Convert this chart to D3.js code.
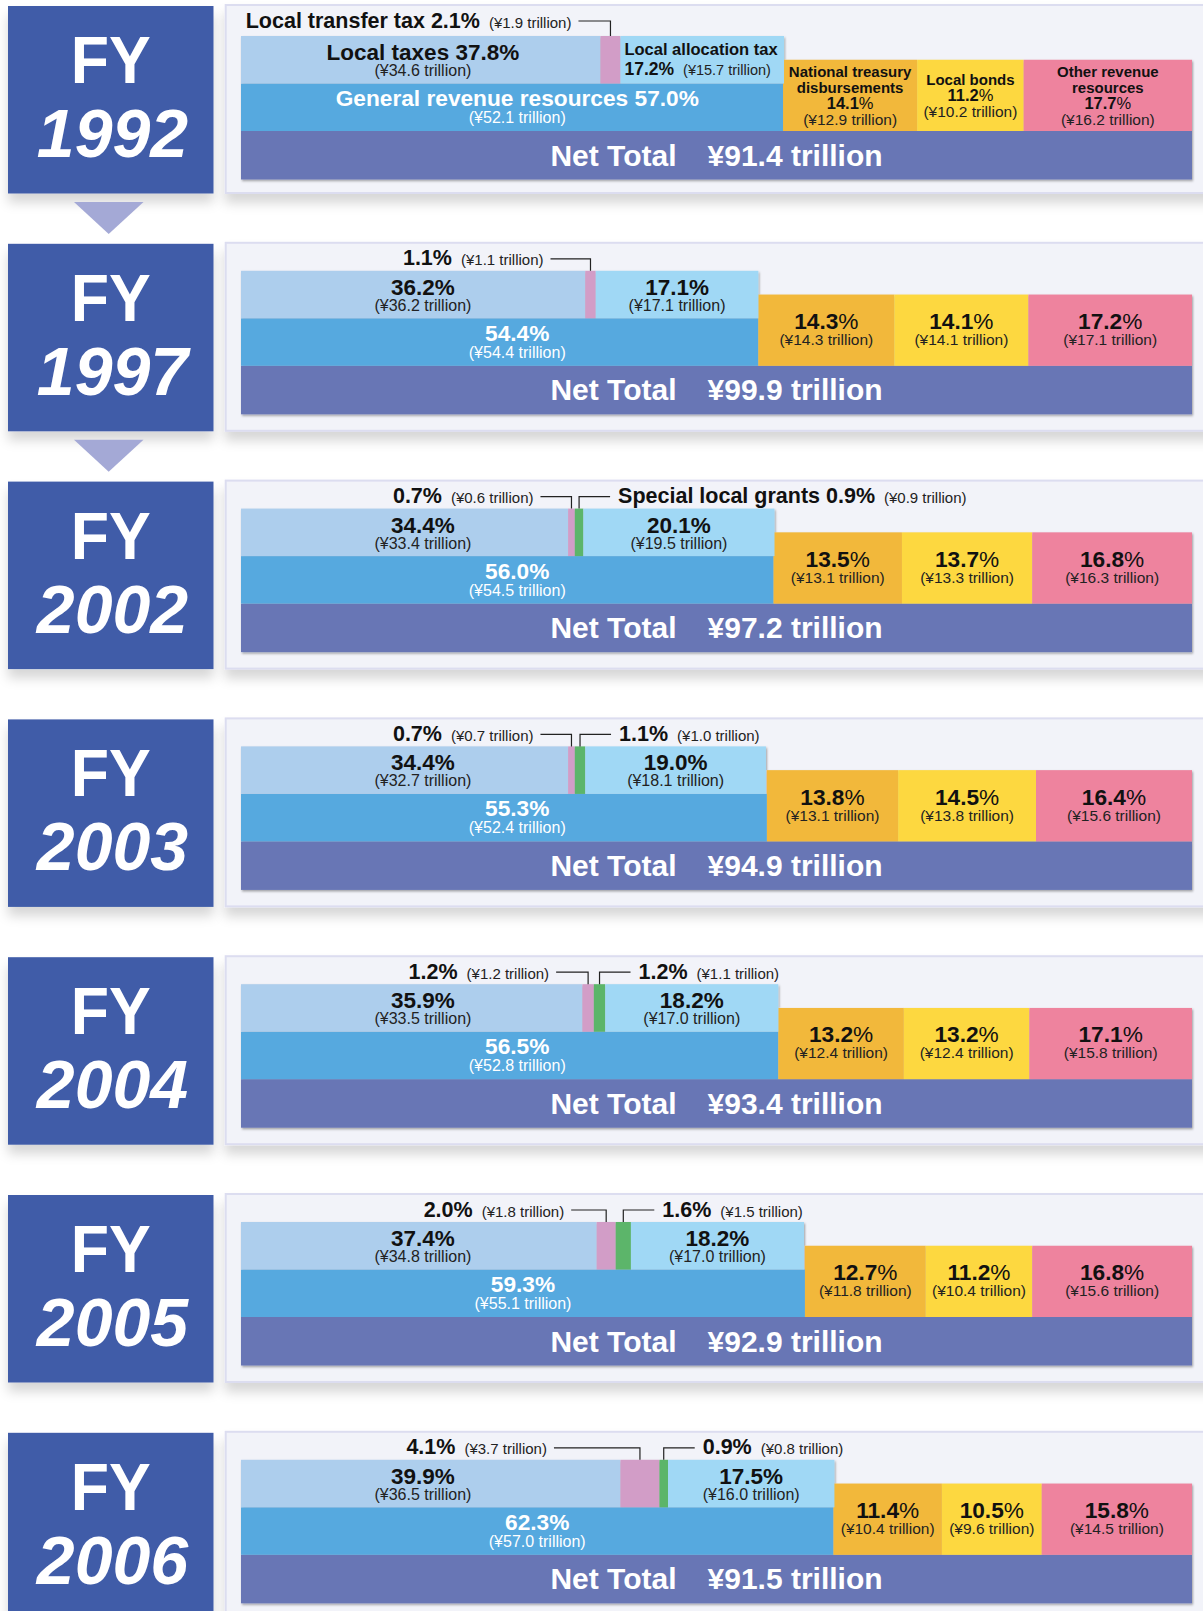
<!DOCTYPE html>
<html>
<head>
<meta charset="utf-8">
<script src="https://cdn.jsdelivr.net/npm/d3@7"></script>
<style>
  body { margin: 0; background: #ffffff; }
  svg { display: block; font-family: "Liberation Sans", Arial, Helvetica, sans-serif; }
</style>
</head>
<body>
<svg id="chart" width="1203" height="1611"></svg>
<script>
// ---------------- DATA ----------------
const years = ["1992", "1997", "2002", "2003", "2004", "2005", "2006"];
const netTotal = [91.4, 99.9, 97.2, 94.9, 93.4, 92.9, 91.5];

const localTaxesPct = [37.8, 36.2, 34.4, 34.4, 35.9, 37.4, 39.9];
const localTaxesAmt = [34.6, 36.2, 33.4, 32.7, 33.5, 34.8, 36.5];
const transferTaxPct = [2.1, 1.1, 0.7, 0.7, 1.2, 2.0, 4.1];
const transferTaxAmt = [1.9, 1.1, 0.6, 0.7, 1.2, 1.8, 3.7];
const specialGrantsPct = [0, 0, 0.9, 1.1, 1.2, 1.6, 0.9];
const specialGrantsAmt = [0, 0, 0.9, 1.0, 1.1, 1.5, 0.8];
const allocationPct = [17.2, 17.1, 20.1, 19.0, 18.2, 18.2, 17.5];
const allocationAmt = [15.7, 17.1, 19.5, 18.1, 17.0, 17.0, 16.0];
const generalPct = [57.0, 54.4, 56.0, 55.3, 56.5, 59.3, 62.3];
const generalAmt = [52.1, 54.4, 54.5, 52.4, 52.8, 55.1, 57.0];
const treasuryPct = [14.1, 14.3, 13.5, 13.8, 13.2, 12.7, 11.4];
const treasuryAmt = [12.9, 14.3, 13.1, 13.1, 12.4, 11.8, 10.4];
const bondsPct = [11.2, 14.1, 13.7, 14.5, 13.2, 11.2, 10.5];
const bondsAmt = [10.2, 14.1, 13.3, 13.8, 12.4, 10.4, 9.6];
const otherPct = [17.7, 17.2, 16.8, 16.4, 17.1, 16.8, 15.8];
const otherAmt = [16.2, 17.1, 16.3, 15.6, 15.8, 15.6, 14.5];

const categoryNames = {
  localTaxes: "Local taxes",
  transfer: "Local transfer tax",
  special: "Special local grants",
  allocation: "Local allocation tax",
  general: "General revenue resources",
  treasury: ["National treasury", "disbursements"],
  bonds: ["Local bonds"],
  other: ["Other revenue", "resources"],
  net: "Net Total"
};

// ---------------- STYLE / LAYOUT ----------------
const colors = {
  fyBox: "#405ca8", triangle: "#a4a9d6",
  panel: "#f2f3f9", panelBorder: "#dcddf0",
  localTaxes: "#adceed", transfer: "#d29dc7", special: "#5bb56a",
  allocation: "#a0d8f5", general: "#57a9df",
  treasury: "#f2b83b", bonds: "#fdd83f", other: "#ee839e", net: "#6876b5"
};
const transferLeader = [32, 40, 31, 31, 32, 35, 86];

const svg = d3.select("#chart");
const defs = svg.append("defs");
const fBar = defs.append("filter").attr("id", "barShadow")
  .attr("x", "-5%").attr("y", "-20%").attr("width", "110%").attr("height", "150%");
fBar.append("feDropShadow").attr("dx", 1).attr("dy", 1.5).attr("stdDeviation", 1.2)
  .attr("flood-color", "#000").attr("flood-opacity", 0.35);
const fBox = defs.append("filter").attr("id", "boxShadow")
  .attr("x", "-10%").attr("y", "-10%").attr("width", "120%").attr("height", "140%");
fBox.append("feDropShadow").attr("dx", 0).attr("dy", 9).attr("stdDeviation", 6)
  .attr("flood-color", "#000").attr("flood-opacity", 0.16);

const x = d3.scaleLinear().domain([0, 100]).range([241, 1192]);
const panelY = d3.scaleLinear().domain([0, 1]).range([5, 242.8]);
const fmt = d3.format(".1f");
const amtText = v => `(¥${fmt(v)} trillion)`;

// common label anchors (labels share one column, as in the original layout)
const localTaxesAnchor = x(d3.mean(localTaxesPct) / 2) + 8;
const generalAnchor = x(d3.mean(generalPct) / 2) + 4;

years.forEach((yr, i) => {
  const P = panelY(i);
  const g = svg.append("g");

  // FY box
  g.append("rect").attr("x", 8).attr("y", P + 1).attr("width", 205.5).attr("height", 187.5)
    .attr("fill", colors.fyBox).attr("filter", "url(#boxShadow)");
  g.append("text").attr("x", 110.7).attr("y", P + 78).attr("text-anchor", "middle")
    .attr("fill", "#fff").attr("font-weight", "bold").attr("font-size", 67)
    .attr("textLength", 80).attr("lengthAdjust", "spacingAndGlyphs").text("FY");
  g.append("text").attr("x", 112.5).attr("y", P + 152).attr("text-anchor", "middle")
    .attr("fill", "#fff").attr("font-weight", "bold").attr("font-style", "italic")
    .attr("font-size", 68).text(yr);

  if (i < 2) {
    g.append("polygon")
      .attr("points", `74,${P + 197} 143.5,${P + 197} 108.7,${P + 229}`)
      .attr("fill", colors.triangle);
  }

  // panel
  g.append("rect").attr("x", 225.7).attr("y", P).attr("width", 1000).attr("height", 188)
    .attr("fill", colors.panel).attr("stroke", colors.panelBorder).attr("stroke-width", 2)
    .attr("filter", "url(#boxShadow)");

  const off = i === 0 ? 3 : 0;
  const rowH = 47.5;
  const y0 = P + 28 + off, y1 = y0 + rowH, y2 = y1 + rowH, y3 = y2 + 48.5;
  const yR = y0 + rowH / 2;

  const bars = g.append("g").attr("filter", "url(#barShadow)");
  const rect = (a, b, top, bottom, fill) =>
    bars.append("rect").attr("x", x(a)).attr("y", top)
      .attr("width", x(b) - x(a)).attr("height", bottom - top).attr("fill", fill);

  // net total
  rect(0, 100, y2, y3, colors.net);
  // general revenue
  rect(0, generalPct[i], y1, y2, colors.general);
  // right bars
  const rb = [
    { key: "treasury", pct: treasuryPct[i], amt: treasuryAmt[i] },
    { key: "bonds", pct: bondsPct[i], amt: bondsAmt[i] },
    { key: "other", pct: otherPct[i], amt: otherAmt[i] }
  ];
  let c = generalPct[i];
  rb.forEach(d => { d.a = c; d.b = c + d.pct; c = d.b; });
  rb.forEach(d => rect(d.a, d.b, yR, y2, colors[d.key]));
  // top row
  const tr = [
    { key: "localTaxes", pct: localTaxesPct[i], amt: localTaxesAmt[i] },
    { key: "transfer", pct: transferTaxPct[i], amt: transferTaxAmt[i] },
    { key: "special", pct: specialGrantsPct[i], amt: specialGrantsAmt[i] },
    { key: "allocation", pct: allocationPct[i], amt: allocationAmt[i] }
  ];
  c = 0;
  tr.forEach(d => { d.a = c; d.b = c + d.pct; c = d.b; });
  tr.filter(d => d.pct > 0).forEach(d => rect(d.a, d.b, y0, y1, colors[d.key]));

  const T = g.append("g").attr("fill", "#111");
  const mid = d => (x(d.a) + x(d.b)) / 2;

  // local taxes label
  const lt = tr[0];
  T.append("text").attr("x", localTaxesAnchor).attr("y", y0 + 24).attr("text-anchor", "middle")
    .attr("font-weight", "bold").attr("font-size", 22.5)
    .text((i === 0 ? categoryNames.localTaxes + " " : "") + fmt(lt.pct) + "%");
  T.append("text").attr("x", localTaxesAnchor).attr("y", y0 + 40).attr("text-anchor", "middle")
    .attr("font-size", 16).attr("fill", "#222").text(amtText(lt.amt));

  // allocation label
  const al = tr[3];
  if (i === 0) {
    T.append("text").attr("x", x(al.a) + 4).attr("y", y0 + 19)
      .attr("font-weight", "bold").attr("font-size", 16.5).text(categoryNames.allocation);
    const t2 = T.append("text").attr("x", x(al.a) + 4).attr("y", y0 + 39);
    t2.append("tspan").attr("font-weight", "bold").attr("font-size", 17.5).text(fmt(al.pct) + "%");
    t2.append("tspan").attr("dx", 9).attr("font-size", 14.5).attr("fill", "#222").text(amtText(al.amt));
  } else {
    T.append("text").attr("x", mid(al)).attr("y", y0 + 24).attr("text-anchor", "middle")
      .attr("font-weight", "bold").attr("font-size", 22.5).text(fmt(al.pct) + "%");
    T.append("text").attr("x", mid(al)).attr("y", y0 + 40).attr("text-anchor", "middle")
      .attr("font-size", 16).attr("fill", "#222").text(amtText(al.amt));
  }

  // general revenue label
  const gm = Math.max(generalAnchor, (x(0) + x(generalPct[i])) / 2);
  T.append("text").attr("x", gm).attr("y", y1 + 22.5).attr("text-anchor", "middle")
    .attr("font-weight", "bold").attr("font-size", 22.7).attr("fill", "#fff")
    .text((i === 0 ? categoryNames.general + " " : "") + fmt(generalPct[i]) + "%");
  T.append("text").attr("x", gm).attr("y", y1 + 39.5).attr("text-anchor", "middle")
    .attr("font-size", 16).attr("fill", "#fff").text(amtText(generalAmt[i]));

  // right bar labels
  rb.forEach(d => {
    const cx = mid(d);
    if (i === 0) {
      const lines = categoryNames[d.key];
      const n = lines.length + 2, step = 15.7;
      const first = yR + 41.2 - (n - 1) / 2 * step;
      lines.forEach((ln, k) => {
        T.append("text").attr("x", cx).attr("y", first + k * step).attr("text-anchor", "middle")
          .attr("font-weight", "bold").attr("font-size", 15).text(ln);
      });
      const tp = T.append("text").attr("x", cx).attr("y", first + lines.length * step)
        .attr("text-anchor", "middle");
      tp.append("tspan").attr("font-weight", "bold").attr("font-size", 16.5).text(fmt(d.pct));
      tp.append("tspan").attr("font-size", 16.5).text("%");
      T.append("text").attr("x", cx).attr("y", first + (lines.length + 1) * step)
        .attr("text-anchor", "middle").attr("font-size", 15.5).attr("fill", "#222").text(amtText(d.amt));
    } else {
      const tp = T.append("text").attr("x", cx).attr("y", yR + 34.5).attr("text-anchor", "middle");
      tp.append("tspan").attr("font-weight", "bold").attr("font-size", 22.7).text(fmt(d.pct));
      tp.append("tspan").attr("font-size", 22.7).text("%");
      T.append("text").attr("x", cx).attr("y", yR + 50.5).attr("text-anchor", "middle")
        .attr("font-size", 15.5).attr("fill", "#222").text(amtText(d.amt));
    }
  });

  // net total label
  const nt = T.append("text").attr("x", (x(0) + x(100)) / 2).attr("y", y2 + 34.5)
    .attr("text-anchor", "middle").attr("fill", "#fff").attr("font-weight", "bold").attr("font-size", 30);
  nt.append("tspan").text(categoryNames.net);
  nt.append("tspan").attr("dx", 31).text(`¥${fmt(netTotal[i])} trillion`);

  // callouts
  const lineY = P + 16, textY = P + 22.5;
  const L = g.append("g");
  const tt = tr[1];
  const tcx = mid(tt);
  const len = transferLeader[i];
  L.append("path").attr("d", `M${tcx - len},${lineY}H${tcx}V${y0}`)
    .attr("fill", "none").attr("stroke", "#222").attr("stroke-width", 1.2);
  const tl = L.append("text").attr("x", tcx - len - 7).attr("y", textY).attr("text-anchor", "end").attr("fill", "#111");
  tl.append("tspan").attr("font-weight", "bold").attr("font-size", 21.5)
    .text((i === 0 ? categoryNames.transfer + " " : "") + fmt(tt.pct) + "%");
  tl.append("tspan").attr("dx", 9).attr("font-size", 15).attr("fill", "#222").text(amtText(tt.amt));

  const sp = tr[2];
  if (sp.pct > 0) {
    const scx = mid(sp);
    const firstSp = specialGrantsPct.findIndex(v => v > 0) === i;
    L.append("path").attr("d", `M${scx},${y0}V${lineY}H${scx + 31}`)
      .attr("fill", "none").attr("stroke", "#222").attr("stroke-width", 1.2);
    const sl = L.append("text").attr("x", scx + 39).attr("y", textY).attr("fill", "#111");
    sl.append("tspan").attr("font-weight", "bold").attr("font-size", 21.5)
      .text((firstSp ? categoryNames.special + " " : "") + fmt(sp.pct) + "%");
    sl.append("tspan").attr("dx", 9).attr("font-size", 15).attr("fill", "#222").text(amtText(sp.amt));
  }
});
</script>
</body>
</html>
